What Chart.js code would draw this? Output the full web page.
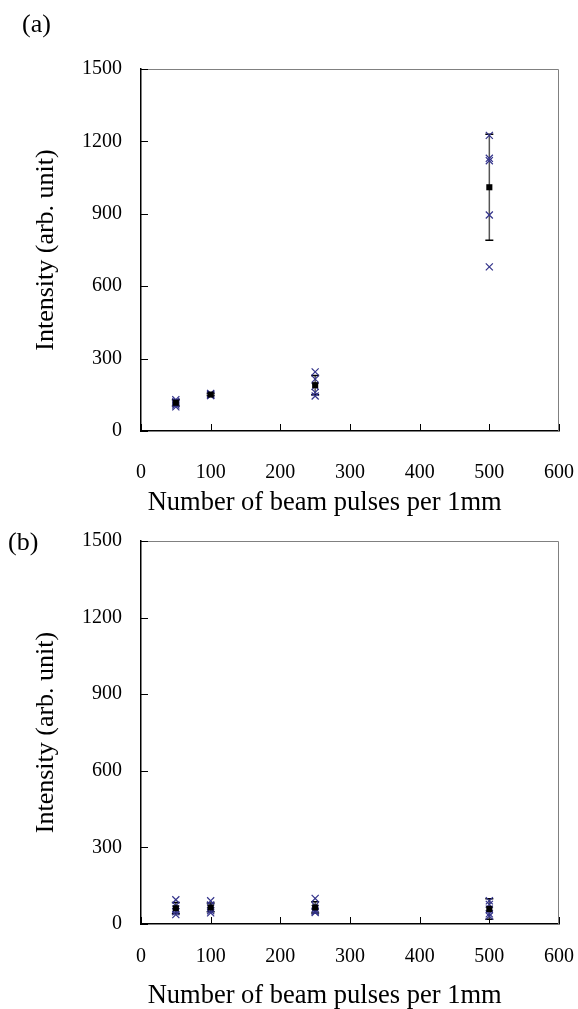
<!DOCTYPE html>
<html>
<head>
<meta charset="utf-8">
<title>Intensity vs beam pulses</title>
<script src="https://cdn.jsdelivr.net/npm/chart.js"></script>
<style>
    body { margin: 0; background: #fff; font-family: 'Liberation Serif', 'Times New Roman', serif; }
    .panel { position: absolute; left: 0; width: 578px; }
    .tag { position: absolute; font-size: 26px; line-height: 1; color: #000; }
</style>
</head>
<body>
<div class="panel" style="top:0; height:516px;"><canvas id="chartA"></canvas></div>
<div class="panel" style="top:512px; height:497px;"><canvas id="chartB"></canvas></div>
<div class="tag" style="left:22px; top:11px;">(a)</div>
<div class="tag" style="left:8px; top:529px;">(b)</div>

<script>
// Beam pulses per 1mm (x positions)
const pulses = [50, 100, 250, 500];

// Panel (a): individual measurements at each pulse count
const samplesA = [
    [130, 122, 115, 108, 100],
    [156, 153, 150, 148, 147],
    [245, 215, 185, 160, 145],
    [1225, 1130, 1120, 895, 680]
];
const meanA = [117, 151, 190, 1010];
const errA = [13, 4, 40, 220];

// Panel (b)
const samplesB = [
    [95, 72, 58, 48, 37],
    [91, 75, 62, 52, 44],
    [100, 72, 60, 50, 45],
    [91, 77, 58, 40, 31]
];
const meanB = [62, 65, 65, 59];
const errB = [22, 17, 22, 40];

const xTicks = [0, 100, 200, 300, 400, 500, 600];
const yTicks = [0, 300, 600, 900, 1200, 1500];

const FONT = "'Liberation Serif', 'Times New Roman', serif";

// gray frame on top/right + inward tick marks
const framePlugin = {
    id: 'frame',
    beforeDatasetsDraw(chart) {
        const { ctx, chartArea: a, scales: { x, y } } = chart;
        ctx.save();
        ctx.strokeStyle = '#808080';
        ctx.lineWidth = 1;
        ctx.beginPath();
        ctx.moveTo(a.left, a.top + 0.5);
        ctx.lineTo(a.right - 0.5, a.top + 0.5);
        ctx.lineTo(a.right - 0.5, a.bottom);
        ctx.stroke();

        ctx.strokeStyle = '#000';
        ctx.beginPath();
        x.ticks.forEach(t => {
            const px = Math.round(x.getPixelForValue(t.value)) + 0.5;
            ctx.moveTo(px, a.bottom);
            ctx.lineTo(px, a.bottom - 7);
        });
        y.ticks.forEach(t => {
            const py = Math.round(y.getPixelForValue(t.value)) + 0.5;
            ctx.moveTo(a.left, py);
            ctx.lineTo(a.left + 7, py);
        });
        ctx.stroke();
        ctx.restore();
    }
};

// error bars around the mean values
const errorBarPlugin = {
    id: 'errorBars',
    beforeDatasetsDraw(chart, args, opts) {
        const { ctx, scales: { x, y } } = chart;
        ctx.save();
        opts.xs.forEach((xv, i) => {
            const px = x.getPixelForValue(xv);
            const top = y.getPixelForValue(opts.mean[i] + opts.err[i]);
            const bot = y.getPixelForValue(opts.mean[i] - opts.err[i]);
            ctx.strokeStyle = '#555';
            ctx.lineWidth = 1.5;
            ctx.beginPath();
            ctx.moveTo(px, top);
            ctx.lineTo(px, bot);
            ctx.stroke();
            ctx.strokeStyle = '#000';
            ctx.beginPath();
            ctx.moveTo(px - 4, top);
            ctx.lineTo(px + 4, top);
            ctx.moveTo(px - 4, bot);
            ctx.lineTo(px + 4, bot);
            ctx.stroke();
        });
        ctx.restore();
    }
};

// no extra room for overflowing tick labels, keeps the plot box fixed
function noPad(s) {
    s.paddingLeft = s.paddingRight = s.paddingTop = s.paddingBottom = 0;
}

function makeChart(canvasId, samples, mean, err, layout) {
    const crosses = [];
    samples.forEach((vals, i) => vals.forEach(v => crosses.push({ x: pulses[i], y: v })));
    const means = mean.map((v, i) => ({ x: pulses[i], y: v }));

    new Chart(document.getElementById(canvasId), {
        type: 'scatter',
        data: {
            datasets: [
                {
                    label: 'Mean',
                    data: means,
                    pointStyle: 'rect',
                    pointRadius: 4.3,
                    backgroundColor: '#000',
                    borderColor: '#000',
                    borderWidth: 0
                },
                {
                    label: 'Measured',
                    data: crosses,
                    pointStyle: 'crossRot',
                    pointRadius: 5,
                    borderColor: '#33338a',
                    borderWidth: 1.2
                }
            ]
        },
        options: {
            responsive: true,
            maintainAspectRatio: false,
            animation: false,
            layout: { padding: { top: layout.top, right: 19, bottom: 0, left: 0 } },
            plugins: {
                legend: { display: false },
                tooltip: { enabled: false },
                errorBars: { xs: pulses, mean: mean, err: err }
            },
            scales: {
                x: {
                    type: 'linear',
                    min: 0,
                    max: 600,
                    afterBuildTicks: s => { s.ticks = xTicks.map(v => ({ value: v })); },
                    afterFit: s => { s.height = layout.xHeight; noPad(s); },
                    grid: { display: false, drawTicks: false },
                    border: { display: true, color: '#000', width: 1.5 },
                    ticks: {
                        color: '#000',
                        padding: layout.tickPad,
                        font: { family: FONT, size: 20 },
                        callback: v => String(v)
                    },
                    title: {
                        display: true,
                        align: 'start',
                        text: ' Number of beam pulses per 1mm',
                        color: '#000',
                        padding: { top: 0, bottom: 0 },
                        font: { family: FONT, size: 26.5, lineHeight: 1 }
                    }
                },
                y: {
                    min: 0,
                    max: 1500,
                    afterBuildTicks: s => { s.ticks = yTicks.map(v => ({ value: v })); },
                    afterFit: s => { s.width = 141; noPad(s); },
                    grid: { display: false, drawTicks: false },
                    border: { display: true, color: '#000', width: 1.5 },
                    ticks: {
                        color: '#000',
                        padding: 19,
                        font: { family: FONT, size: 20 },
                        callback: v => String(v)
                    },
                    title: {
                        display: true,
                        text: 'Intensity (arb. unit)',
                        color: '#000',
                        padding: { top: 31, bottom: 0 },
                        font: { family: FONT, size: 26 }
                    }
                }
            }
        },
        plugins: [framePlugin, errorBarPlugin]
    });
}

makeChart('chartA', samplesA, meanA, errA, { top: 69, xHeight: 85, tickPad: 30 });
makeChart('chartB', samplesB, meanB, errB, { top: 29, xHeight: 85, tickPad: 21 });
</script>
</body>
</html>
